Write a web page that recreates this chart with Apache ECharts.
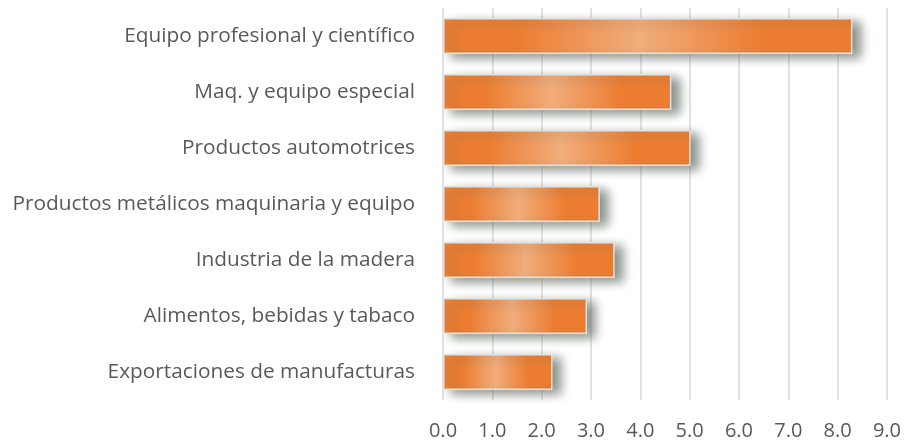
<!DOCTYPE html>
<html>
<head>
<meta charset="utf-8">
<script src="https://cdn.jsdelivr.net/npm/echarts@6/dist/echarts.min.js"></script>
<style>
  html, body { margin: 0; padding: 0; background: #fff; }
  #chart { width: 904px; height: 441px; }
</style>
</head>
<body>
<div id="chart"></div>
<script>
// categories bottom -> top (category axis starts at the bottom)
const categories = [
  'Exportaciones de manufacturas',
  'Alimentos, bebidas y tabaco',
  'Industria de la madera',
  'Productos metálicos maquinaria y equipo',
  'Productos automotrices',
  'Maq. y equipo especial',
  'Equipo profesional y científico'
]
const values = [2.22, 2.92, 3.48, 3.18, 5.02, 4.63, 8.3]
const tickMax = 9

const barColor = {
  type: 'linear', x: 0, y: 0, x2: 1, y2: 0,
  colorStops: [
    { offset: 0, color: '#ED7D31' },
    { offset: 0.18, color: '#ED7D31' },
    { offset: 0.48, color: '#F2AE7C' },
    { offset: 0.78, color: '#ED7D31' },
    { offset: 1, color: '#ED7D31' }
  ]
}

const chart = echarts.init(document.getElementById('chart'))
chart.setOption({
  animation: false,
  grid: { left: 443, right: 17, top: 8, bottom: 41 },
  xAxis: {
    type: 'value',
    min: 0,
    max: tickMax,
    interval: 1,
    axisLine: { show: false },
    axisTick: { show: false },
    splitLine: { lineStyle: { color: '#d9d9d9', width: 1.5 } },
    axisLabel: {
      margin: 21,
      color: '#595959',
      fontSize: 20,
      fontFamily: 'Open Sans',
      formatter: v => v.toFixed(1)
    }
  },
  yAxis: {
    type: 'category',
    data: categories,
    axisLine: { show: false },
    axisTick: { show: false },
    axisLabel: {
      margin: 28,
      color: '#595959',
      fontSize: 20.8,
      fontFamily: 'Open Sans'
    }
  },
  series: [{
    type: 'bar',
    data: values,
    barCategoryGap: '36%',
    itemStyle: {
      color: barColor,
      borderColor: '#dfe3e6',
      borderWidth: 1.5,
      shadowColor: 'rgba(95,105,95,0.75)',
      shadowBlur: 10,
      shadowOffsetX: 8,
      shadowOffsetY: 4
    }
  }]
})
</script>
</body>
</html>
